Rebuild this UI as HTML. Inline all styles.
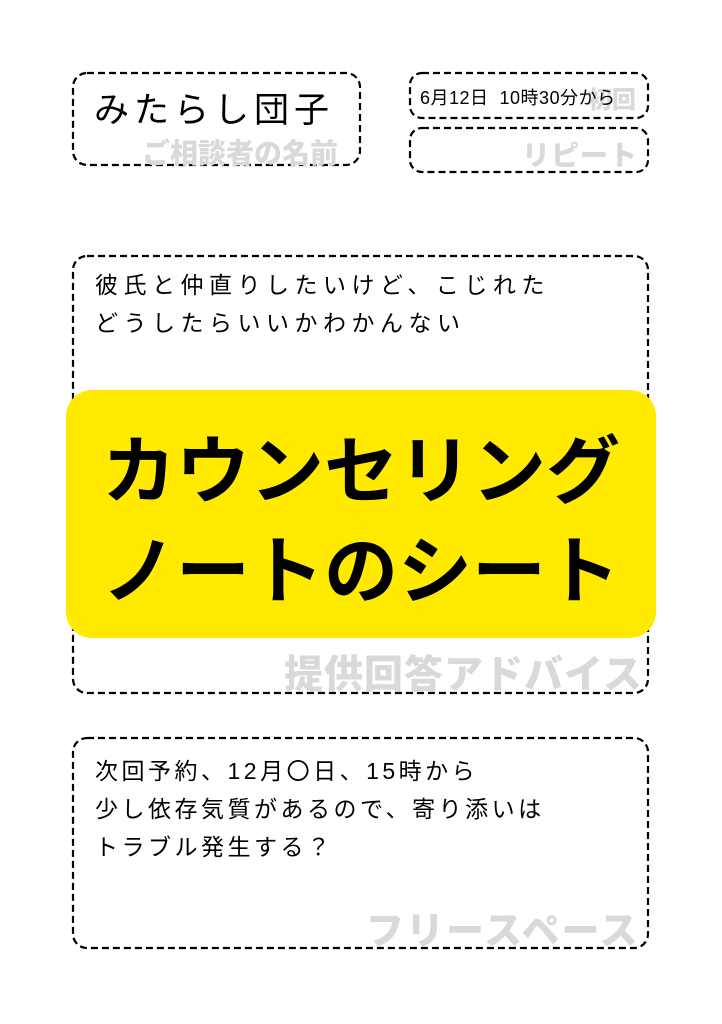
<!DOCTYPE html>
<html><head><meta charset="utf-8"><style>
html,body{margin:0;padding:0;background:#fff;}
body{width:722px;height:1024px;position:relative;overflow:hidden;font-family:"Liberation Sans","Noto Sans CJK JP",sans-serif;}
.t{position:absolute;white-space:nowrap;color:#000;}
.g{position:absolute;white-space:nowrap;color:#d9d9d9;font-weight:900;}
</style></head><body>
<svg width="722" height="1024" style="position:absolute;left:0;top:0">
<g fill="none" stroke="#000" stroke-width="2.2" stroke-dasharray="7,4">
<rect x="73" y="73" width="287" height="92" rx="14"/>
<rect x="410" y="73" width="238" height="45" rx="12"/>
<rect x="410" y="128" width="238" height="44" rx="12"/>
<rect x="73" y="256" width="575" height="437" rx="14"/>
<rect x="73" y="738" width="575" height="210" rx="14"/>
</g>
<rect x="66" y="390" width="590" height="248" rx="26" fill="#ffea00"/>
</svg>
<div class="g" style="left:588px;top:80px;font-size:24px;">初回</div>
<div class="g" style="left:142px;top:132px;font-size:28px;">ご相談者の名前</div>
<div class="g" style="left:522px;top:134px;font-size:28px;letter-spacing:1px;">リピート</div>
<div class="g" style="left:284px;top:644px;font-size:39px;letter-spacing:1px;">提供回答アドバイス</div>
<div class="g" style="left:366px;top:900px;font-size:38px;letter-spacing:2px;">フリースペース</div>
<div class="t" style="left:94px;top:82px;font-size:35px;letter-spacing:5px;">みたらし団子</div>
<div class="t" style="left:420px;top:84px;font-size:18px;letter-spacing:0.5px;">6月12日&nbsp; 10時30分から</div>
<div class="t" style="left:95px;top:266px;font-size:23px;line-height:38px;letter-spacing:5.5px;">彼氏と仲直りしたいけど、こじれた<br>どうしたらいいかわかんない</div>
<div class="t" style="left:0;width:722px;text-align:center;top:422px;font-size:74px;font-weight:bold;line-height:100px;">カウンセリング<br>ノートのシート</div>
<div class="t" style="left:95px;top:752px;font-size:23px;line-height:38px;letter-spacing:3.5px;">次回予約、12月〇日、15時から<br>少し依存気質があるので、寄り添いは<br>トラブル発生する？</div>
</body></html>
